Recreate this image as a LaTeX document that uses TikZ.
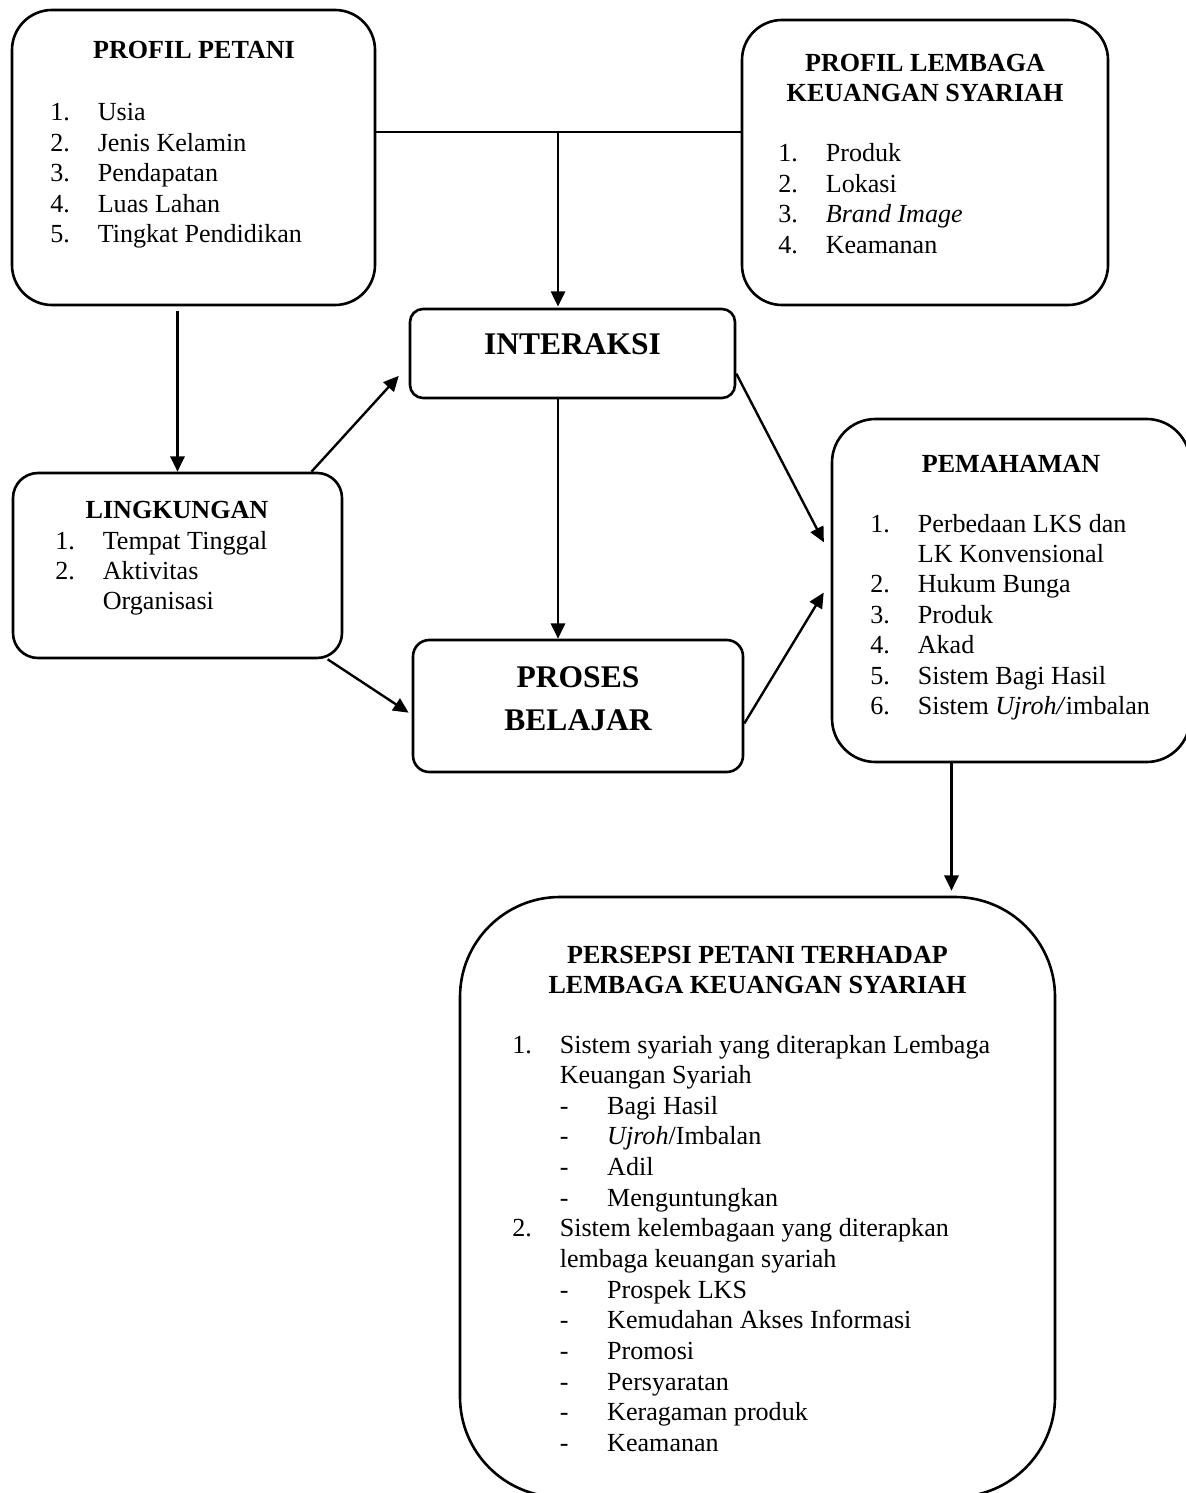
\documentclass[tikz,border=0pt]{standalone}
\usepackage{fontspec}
\setmainfont{Liberation Serif}
\usepackage{tikz}
\usetikzlibrary{positioning,arrows.meta,fit,calc}
\newlength\numw
\setlength\numw{21.8pt}
\tikzset{
  kbox/.style={draw, line width=1.2pt, inner sep=0pt},
  karrow/.style={-{Triangle[length=7pt,width=6.5pt]}, line width=1.1pt},
  kline/.style={line width=1.1pt},
  ktitle/.style={anchor=base, inner sep=0pt, font=\fontsize{12}{13.8}\selectfont\bfseries},
  kbig/.style={anchor=base, inner sep=0pt, font=\fontsize{14.5}{19.8}\selectfont\bfseries},
  klist/.style={anchor=base west, inner sep=0pt, font=\fontsize{12}{14}\selectfont},
}

\begin{document}
\begin{tikzpicture}[x=0.46pt, y=-0.46pt]
  \useasboundingbox (0,0) rectangle (1185,1493);

  \node[kbox, rounded corners=18.4pt, fit={(12,10) (375,305)}] (petani) {};
  \node[kbox, rounded corners=18.4pt, fit={(742,20) (1108,305)}] (lks) {};
  \node[kbox, rounded corners=6pt, fit={(410,309) (735,398)}] (interaksi) {};
  \node[kbox, rounded corners=7.5pt, fit={(413,640) (743,772)}] (proses) {};
  \node[kbox, rounded corners=11.5pt, fit={(13,473) (342,658)}] (lingkungan) {};
  \node[kbox, rounded corners=20pt, fit={(832,419) (1190,762)}] (pemahaman) {};
  \node[kbox, rounded corners=46pt, fit={(460,897) (1055,1497)}] (persepsi) {};

  \node[ktitle] (petanititle) at (194,59) {PROFIL PETANI};
  \node[klist] (petanilist) at (50,121) {\begin{tabular}[t]{@{}p{\numw}@{}l@{}}
    1. & Usia\\
    2. & Jenis Kelamin\\
    3. & Pendapatan\\
    4. & Luas Lahan\\
    5. & Tingkat Pendidikan
  \end{tabular}};

  \node[ktitle] (lkstitle) at (925,72) {\begin{tabular}[t]{@{}c@{}}
    PROFIL LEMBAGA\\ KEUANGAN SYARIAH\end{tabular}};
  \node[klist] (lkslist) at (778,162) {\begin{tabular}[t]{@{}p{\numw}@{}l@{}}
    1. & Produk\\
    2. & Lokasi\\
    3. & \textit{Brand Image}\\
    4. & Keamanan
  \end{tabular}};

  \node[kbig] (interaksititle) at (572.5,355) {INTERAKSI};
  \node[kbig] (prosestitle) at (578,687) {\begin{tabular}[t]{@{}c@{}}
    PROSES\\ BELAJAR\end{tabular}};

  \node[ktitle] (lingkungantitle) at (177,518) {LINGKUNGAN};
  \node[klist] (lingkunganlist) at (55,549) {\begin{tabular}[t]{@{}p{\numw}@{}l@{}}
    1. & Tempat Tinggal\\
    2. & Aktivitas\\
       & Organisasi
  \end{tabular}};

  \node[ktitle] (pemahamantitle) at (1011,472) {PEMAHAMAN};
  \node[klist] (pemahamanlist) at (870,532) {\begin{tabular}[t]{@{}p{\numw}@{}l@{}}
    1. & Perbedaan LKS dan\\
       & LK Konvensional\\
    2. & Hukum Bunga\\
    3. & Produk\\
    4. & Akad\\
    5. & Sistem Bagi Hasil\\
    6. & Sistem \textit{Ujroh/}imbalan
  \end{tabular}};

  \node[ktitle, font=\fontsize{12}{14.2}\selectfont\bfseries] (persepsititle) at (757.5,963) {\begin{tabular}[t]{@{}c@{}}
    PERSEPSI PETANI TERHADAP\\ LEMBAGA KEUANGAN SYARIAH\end{tabular}};
  \node[klist, font=\fontsize{12}{14.1}\selectfont] (persepsilist) at (512,1053) {\begin{tabular}[t]{@{}p{\numw}@{}p{\numw}@{}l@{}}
    1. & \multicolumn{2}{@{}l@{}}{Sistem syariah yang diterapkan Lembaga}\\
       & \multicolumn{2}{@{}l@{}}{Keuangan Syariah}\\
       & - & Bagi Hasil\\
       & - & \textit{Ujroh}/Imbalan\\
       & - & Adil\\
       & - & Menguntungkan\\
    2. & \multicolumn{2}{@{}l@{}}{Sistem kelembagaan yang diterapkan}\\
       & \multicolumn{2}{@{}l@{}}{lembaga keuangan syariah}\\
       & - & Prospek LKS\\
       & - & Kemudahan Akses Informasi\\
       & - & Promosi\\
       & - & Persyaratan\\
       & - & Keragaman produk\\
       & - & Keamanan
  \end{tabular}};

  \coordinate (cabang) at (558,132);
  \draw[kline] (cabang -| petani.east) -- (cabang -| lks.west);
  \draw[karrow, shorten >=0.5pt] (cabang) -- (cabang |- interaksi.north);
  \draw[karrow] (cabang |- interaksi.south) -- (cabang |- proses.north);
  \draw[karrow, shorten <=2.3pt] (petani.south -| lingkungan.north) -- (lingkungan.north);
  \draw[karrow, shorten >=2.3pt] (pemahaman.-109) -- (pemahaman.-109 |- persepsi.north);
  \foreach \a/\b/\s in {lingkungan.35/interaksi.184/6.8pt, lingkungan.-32/proses.183/1.7pt,
      interaksi.-7/pemahaman.169/6.8pt, proses.-6/pemahaman.177/6.2pt}
    \draw[karrow, shorten >=\s] (\a) -- (\b);
\end{tikzpicture}
\end{document}
